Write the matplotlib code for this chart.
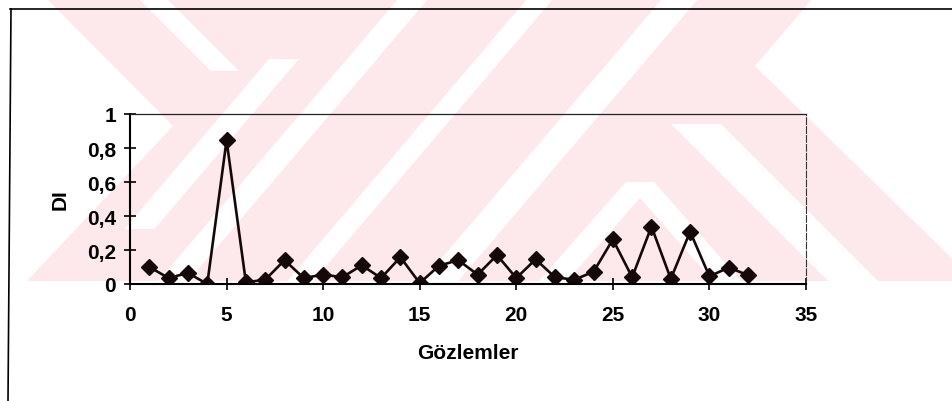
import matplotlib
matplotlib.use("Agg")
import matplotlib.pyplot as plt
from matplotlib.patches import Polygon

""" Data """
gozlem = list(range(1, 33))
di_values = [0.10, 0.035, 0.065, 0.0, 0.845, 0.01, 0.025, 0.14, 0.035, 0.055,
             0.04, 0.11, 0.035, 0.158, 0.005, 0.108, 0.14, 0.055, 0.17, 0.035,
             0.145, 0.04, 0.025, 0.072, 0.262, 0.04, 0.338, 0.03, 0.308, 0.045,
             0.097, 0.052]
x_ticks = [0, 5, 10, 15, 20, 25, 30, 35]
y_ticks = [0, 0.2, 0.4, 0.6, 0.8, 1]
y_tick_labels = ["0", "0,2", "0,4", "0,6", "0,8", "1"]

plt.rcParams['font.family'] = ['Liberation Sans', 'DejaVu Sans']
plt.rcParams['font.weight'] = 'bold'

W, H = 952, 402
fig = plt.figure(figsize=(W / 100, H / 100), dpi=100)
fig.patch.set_facecolor('white')

""" Background: scanned page with watermark """
bg = fig.add_axes([0, 0, 1, 1], zorder=0)
bg.set_xlim(0, W)
bg.set_ylim(H, 0)
bg.axis('off')

pink = '#fde8ec'
bg.add_patch(Polygon([(47, 0), (812, 0), (755, 67), (975, 282), (27, 282), (173, 127)],
                     closed=True, fc=pink, ec='none'))


def stripe(c, k, hw, y0, y1):
    # band whose centre is at x = c + k*y
    pts = [(c + k * y0 - hw, y0), (c + k * y0 + hw, y0),
           (c + k * y1 + hw, y1), (c + k * y1 - hw, y1)]
    bg.add_patch(Polygon(pts, closed=True, fc='white', ec='none'))


stripe(153, 1.0, 14, 0, 72)        # short "\" at top left
stripe(335, -0.85, 15, 60, 230)    # "/" stripes
stripe(413, -0.85, 15, 0, 282)
stripe(540, -0.85, 13, 0, 282)
stripe(680, -0.85, 18, 0, 282)
stripe(640 + 0.88 * 183, -0.88, 14, 183, 282)   # chevron
stripe(640 - 0.88 * 183, 0.88, 14, 183, 282)
stripe(571, 1.0, 25, 125, 282)     # "\" at right

# page frame
bg.plot([10, W], [10, 10], color='black', lw=1.2)
bg.plot([11, 8], [10, H], color='black', lw=1.2)

""" Chart """
ax = fig.add_axes([130 / W, 1 - 285 / H, 676 / W, 170 / H], zorder=1)
ax.set_facecolor('none')

ax.plot(gozlem, di_values, color='#140808', lw=1.9, marker='D',
        markersize=8.4, markerfacecolor='#140808', markeredgecolor='#140808')

ax.set_xlim(0, 35)
ax.set_ylim(0, 1)
ax.set_xticks(x_ticks)
ax.set_yticks(y_ticks)
ax.set_yticklabels(y_tick_labels)

ax.spines['left'].set_linewidth(1.5)
ax.spines['bottom'].set_linewidth(1.5)
ax.spines['top'].set_linewidth(0.9)
ax.spines['right'].set_linewidth(0.8)
ax.spines['right'].set_linestyle((0, (6, 2)))
ax.spines['top'].set_color('#222222')
ax.spines['right'].set_color('#333333')

ax.tick_params(axis='both', direction='inout', length=8, width=1.2,
               labelsize=15, colors='black')
ax.tick_params(axis='x', pad=11)
ax.tick_params(axis='y', pad=6)

ax.set_xlabel("Gözlemler", fontsize=15, fontweight='bold')
ax.set_ylabel("DI", fontsize=15, fontweight='bold')
ax.xaxis.set_label_coords(0.5, -0.345)
ax.yaxis.set_label_coords(-0.089, 0.5)

fig.savefig("out.png", dpi=100)
